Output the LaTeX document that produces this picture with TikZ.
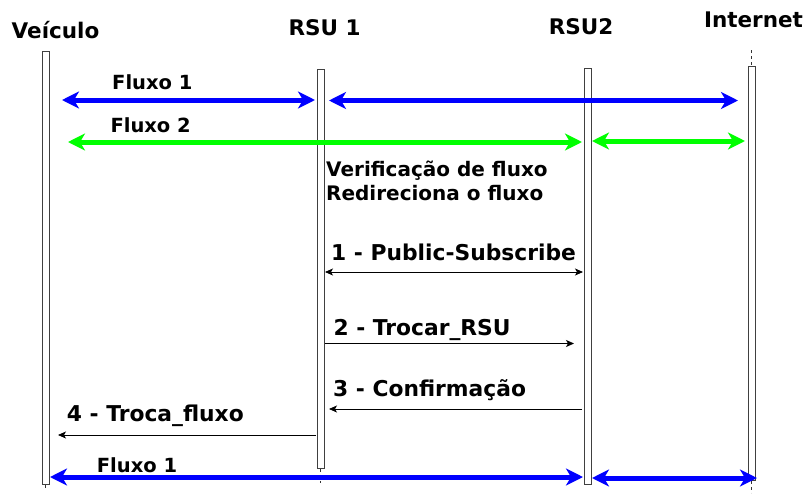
\documentclass[tikz,border=0pt]{standalone}
\usepackage{fontspec}
\setmainfont{DejaVu Sans}
\usetikzlibrary{arrows.meta, positioning, calc}
\definecolor{flowblue}{HTML}{0000FF}
\definecolor{flowgreen}{HTML}{00FF00}

\begin{document}
\begin{tikzpicture}[x=1pt, y=-1pt,
    actor/.style={font=\fontsize{21.5}{25}\selectfont\bfseries, anchor=base, inner sep=0pt},
    bar/.style={draw=black!75, fill=white, line width=0.9pt, minimum width=7pt,
        inner sep=0pt, anchor=north},
    life/.style={dashed, line width=0.6pt, black!80},
    flow/.style={{Stealth[length=17pt,width=17pt,inset=5pt]}-{Stealth[length=17pt,width=17pt,inset=5pt]},
        line width=5pt},
    msg/.style={-{Stealth[length=8pt,width=7pt,inset=2pt]}, line width=0.8pt},
    msgboth/.style={{Stealth[length=8pt,width=7pt,inset=2pt]}-{Stealth[length=8pt,width=7pt,inset=2pt]},
        line width=0.8pt},
    flowlab/.style={font=\fontsize{19.5}{23}\selectfont\bfseries, anchor=base west, inner sep=0pt},
    msglab/.style={font=\fontsize{21.8}{26}\selectfont\bfseries, anchor=base west, inner sep=0pt},
    note/.style={font=\fontsize{20}{24}\selectfont\bfseries, anchor=base west, inner sep=0pt},
]
\useasboundingbox (0,0) rectangle (806,493);

% participants
\node[actor] (veic) at (55.5,38.3) {Veículo};
\node[actor] (rsu1) at (324.5,35.3) {RSU 1};
\node[actor] (rsu2) at (581,34.3) {RSU2};
\node[actor] (inet) at (753.5,27.7) {Internet};

% lifelines and activation bars
\draw[life] (751.5,50) -- (751.5,66);
\node[bar, minimum height=433pt] (bveic) at (45.5,51) {};
\node[bar, minimum height=399pt] (brsu1) at (320.5,69) {};
\node[bar, minimum height=416pt] (brsu2) at (587.5,68) {};
\node[bar, minimum height=414pt] (binet) at (751.5,66) {};
\draw[life] (bveic.south) -- ++(0,6);
\draw[life] (brsu1.south) -- ++(0,14);
\draw[life] (binet.south) -- ++(0,12);

% flow 1 (top)
\coordinate (f1a) at (62,100);   \coordinate (f1b) at (315,100);
\coordinate (f1c) at (329,100.5); \coordinate (f1d) at (738,100.5);
\draw[flow, flowblue] (f1a) -- (f1b);
\draw[flow, flowblue] (f1c) -- (f1d);
\node[flowlab] (lf1) at (112,89.3) {Fluxo 1};

% flow 2
\coordinate (f2a) at (68,142);  \coordinate (f2b) at (582,142);
\coordinate (f2c) at (592,141); \coordinate (f2d) at (745,141);
\draw[flow, flowgreen] (f2a) -- (f2b);
\draw[flow, flowgreen] (f2c) -- (f2d);
\node[flowlab] (lf2) at (110.3,132.7) {Fluxo 2};

\node[note] (verif) at (326,176) {Verificação de fluxo};
\node[note] (redir) at (326,200.7) {Redireciona o fluxo};

% handover messages
\coordinate (m1a) at (325,272);   \coordinate (m1b) at (583,272);
\coordinate (m2a) at (325,343.5); \coordinate (m2b) at (574,343.5);
\coordinate (m3a) at (582,409);   \coordinate (m3b) at (329,409);
\coordinate (m4a) at (316,435);   \coordinate (m4b) at (58,435);
\draw[msgboth] (m1a) -- (m1b);
\draw[msg] (m2a) -- (m2b);
\draw[msg] (m3a) -- (m3b);
\draw[msg] (m4a) -- (m4b);
\node[msglab] (l1) at (331,260) {1 - Public-Subscribe};
\node[msglab] (l2) at (333.3,335) {2 - Trocar\_RSU};
\node[msglab] (l3) at (333,396) {3 - Confirmação};
\node[msglab] (l4) at (66.7,421.7) {4 - Troca\_fluxo};

% flow 1 after handover
\coordinate (f3a) at (50,477);  \coordinate (f3b) at (583,477);
\coordinate (f3c) at (592,478); \coordinate (f3d) at (757,478);
\draw[flow, flowblue] (f3a) -- (f3b);
\draw[flow, flowblue] (f3c) -- (f3d);
\node[flowlab] (lf3) at (96.7,472.7) {Fluxo 1};
\end{tikzpicture}
\end{document}
